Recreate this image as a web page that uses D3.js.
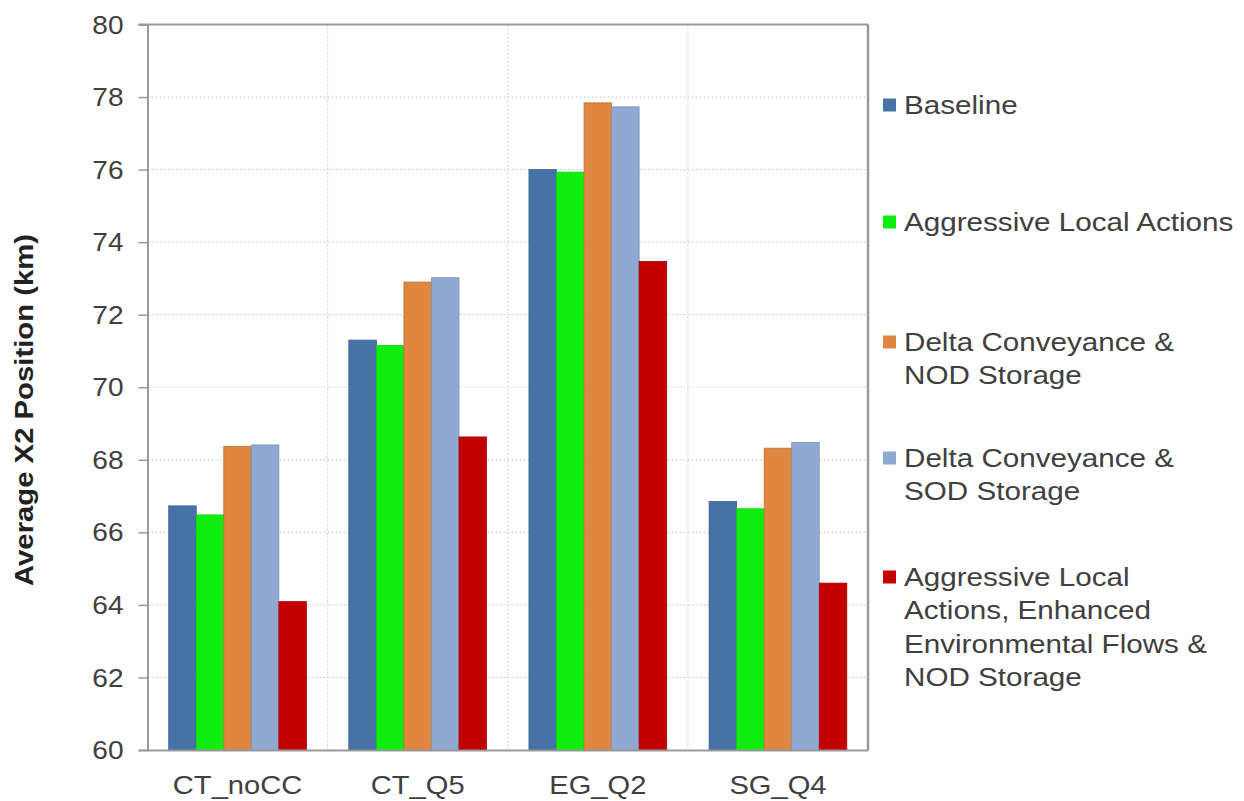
<!DOCTYPE html>
<html><head><meta charset="utf-8">
<script src="https://cdn.jsdelivr.net/npm/d3@7"></script>
<style>html,body{margin:0;padding:0;background:#fff;}svg{display:block;}</style>
</head><body>
<svg id="chart" width="1244" height="801"></svg>
<script>
const categories = ["CT_noCC", "CT_Q5", "EG_Q2", "SG_Q4"];
const seriesNames = [
  "Baseline",
  "Aggressive Local Actions",
  "Delta Conveyance & NOD Storage",
  "Delta Conveyance & SOD Storage",
  "Aggressive Local Actions, Enhanced Environmental Flows & NOD Storage"
];
const legendLines = [
  ["Baseline"],
  ["Aggressive Local Actions"],
  ["Delta Conveyance &", "NOD Storage"],
  ["Delta Conveyance &", "SOD Storage"],
  ["Aggressive Local", "Actions, Enhanced", "Environmental Flows &", "NOD Storage"]
];
const baseline   = [66.73, 71.30, 76.00, 66.85];
const aggressive = [66.48, 71.15, 75.93, 66.65];
const dcNOD      = [68.37, 72.90, 77.84, 68.32];
const dcSOD      = [68.41, 73.02, 77.73, 68.48];
const alaEEF     = [64.09, 68.63, 73.47, 64.60];
const seriesValues = [baseline, aggressive, dcNOD, dcSOD, alaEEF];
const colors = ["#4672a8", "#10ee10", "#df8640", "#90a9d2", "#c20000"];
const yTicks = [60, 62, 64, 66, 68, 70, 72, 74, 76, 78, 80];
const yTitle = "Average X2 Position (km)";

const svg = d3.select("#chart");
const L = 147.5, R = 868, T = 24.5, B = 750;
const FONT = "'Liberation Sans', Arial, sans-serif";

const x0 = d3.scaleBand().domain(categories).range([L, R]).padding(0);
const x1 = d3.scaleBand().domain(d3.range(seriesNames.length)).range([0, x0.bandwidth()]).paddingInner(0).paddingOuter(0.77);
const y = d3.scaleLinear().domain([60, 80]).range([B, T]);

// gridlines
const grid = svg.append("g");
grid.selectAll("line.h").data(yTicks.slice(1, -1)).join("line")
  .attr("x1", L).attr("x2", R).attr("y1", d => y(d)).attr("y2", d => y(d))
  .attr("stroke", "#d4d4d4").attr("stroke-width", 1.2).attr("stroke-dasharray", "2,2");
grid.selectAll("line.v").data(categories.slice(1)).join("line")
  .attr("x1", d => x0(d)).attr("x2", d => x0(d)).attr("y1", T).attr("y2", B)
  .attr("stroke", "#d4d4d4").attr("stroke-width", 1.2).attr("stroke-dasharray", "2,2");

// bars
const groups = svg.append("g").selectAll("g").data(categories).join("g")
  .attr("transform", d => `translate(${x0(d)},0)`);
groups.selectAll("rect").data((c, ci) => seriesValues.map((vals, si) => ({si, v: vals[ci]}))).join("rect")
  .attr("x", d => x1(d.si)).attr("width", x1.bandwidth())
  .attr("y", d => y(d.v)).attr("height", d => y(60) - y(d.v))
  .attr("fill", d => colors[d.si])
  .attr("stroke", d => d3.color(colors[d.si]).darker(0.4)).attr("stroke-width", 0.8);

// frame
svg.append("line").attr("x1", L - 9).attr("x2", R).attr("y1", T).attr("y2", T).attr("stroke", "#9a9a9a").attr("stroke-width", 2);
svg.append("line").attr("x1", R).attr("x2", R).attr("y1", T).attr("y2", B).attr("stroke", "#9a9a9a").attr("stroke-width", 2.5);

// y axis
const yAxis = svg.append("g").attr("transform", `translate(${L},0)`)
  .call(d3.axisLeft(y).tickValues(yTicks).tickSize(9).tickPadding(0).tickFormat(d3.format("d")));
yAxis.select(".domain").attr("stroke", "#9a9a9a").attr("stroke-width", 2);
yAxis.selectAll(".tick line").attr("stroke", "#9a9a9a").attr("stroke-width", 1.5);
yAxis.selectAll(".tick text").attr("x", 0).attr("dy", null).attr("dominant-baseline", "central")
  .attr("font-family", FONT).attr("font-size", 26).attr("fill", "#404040").attr("text-anchor", "end")
  .attr("transform", "translate(-24,0) scale(1.08,1)");

// x axis
const xAxis = svg.append("g").attr("transform", `translate(0,${B})`)
  .call(d3.axisBottom(x0).tickSize(0).tickPadding(0));
xAxis.select(".domain").attr("stroke", "#9a9a9a").attr("stroke-width", 2);
xAxis.selectAll(".tick text").attr("y", 0).attr("dy", null).attr("dominant-baseline", "central")
  .attr("font-family", FONT).attr("font-size", 26).attr("fill", "#404040")
  .attr("transform", "translate(0,35) scale(1.12,1)");

// y title
const yt = svg.append("text").text(yTitle)
  .attr("font-family", FONT).attr("font-size", 25).attr("font-weight", "bold").attr("fill", "#222")
  .attr("text-anchor", "middle").attr("dominant-baseline", "central");
const tl = yt.node().getComputedTextLength();
yt.attr("transform", `translate(24,410) rotate(-90) scale(${352 / tl},1)`);

// legend
const rowY = [105, 222, 342, 458, 577];
const lg = svg.append("g");
legendLines.forEach((lines, i) => {
  lg.append("rect").attr("x", 883).attr("y", rowY[i] - 6.5).attr("width", 13).attr("height", 13).attr("fill", colors[i]);
  lines.forEach((ln, j) => {
    lg.append("text").text(ln)
      .attr("font-family", FONT).attr("font-size", 25).attr("fill", "#404040")
      .attr("dominant-baseline", "central")
      .attr("transform", `translate(904,${rowY[i] + j * 33.5}) scale(1.185,1)`)
      .append("title").text(seriesNames[i]);
  });
});
</script>
</body></html>
